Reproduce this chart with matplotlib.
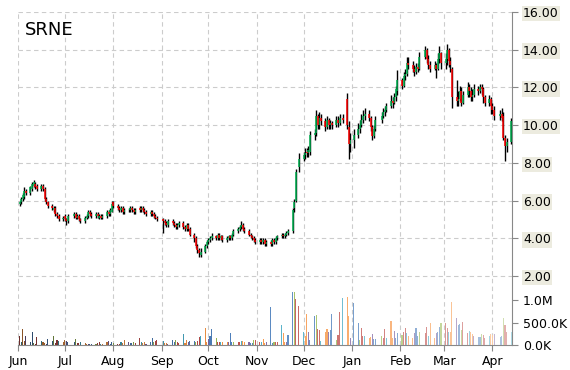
import numpy as np
import pandas as pd
import matplotlib
matplotlib.use("Agg")
import matplotlib.pyplot as plt
import matplotlib.dates as mdates
import matplotlib.colors as mcolors

ticker = "SRNE"
holidays = ["2014-07-04", "2014-09-01", "2014-11-27", "2014-12-25",
            "2015-01-01", "2015-01-19", "2015-02-16", "2015-04-03"]

# daily prices, one row per month (Jun 2014 .. Apr 2015)
opens = [
    5.8, 5.9, 6.1, 6.2, 6.5, 6.4, 6.6, 6.8, 6.9, 6.8, 6.6, 6.8, 6.6, 6.1, 5.9, 5.7, 5.5, 5.6, 5.3, 5.2, 5.0,
    5.2, 5.0, 4.9, 5.2, 5.3, 5.1, 5.2, 5.0, 4.9, 5.1, 5.2, 5.4, 5.3, 5.2, 5.3, 5.1, 5.2, 5.1, 5.2, 5.4, 5.3, 5.4,
    5.9, 5.7, 5.6, 5.5, 5.6, 5.4, 5.5, 5.5, 5.6, 5.5, 5.4, 5.6, 5.5, 5.6, 5.5, 5.4, 5.3, 5.4, 5.3, 5.2, 5.1,
    5.0, 4.9, 4.8, 4.7, 4.9, 4.8, 4.7, 4.6, 4.7, 4.8, 4.6, 4.5, 4.7, 4.5, 4.2, 4.0, 3.6, 3.4, 3.1, 3.3, 3.6,
    3.8, 3.9, 4.0, 4.1, 4.0, 4.2, 4.0, 4.1, 3.9, 4.0, 4.1, 4.0, 4.2, 4.4, 4.5, 4.6, 4.7, 4.5, 4.4, 4.2, 4.1, 4.0, 3.9,
    3.8, 3.9, 3.8, 3.9, 3.7, 3.8, 3.7, 3.9, 3.8, 4.0, 4.1, 4.2, 4.1, 4.2, 4.3, 4.4, 5.6, 6.0, 7.8,
    8.2, 8.4, 8.6, 8.5, 8.6, 9.5, 9.6, 10.5, 10.0, 10.4, 10.2, 9.9, 10.3, 10.0, 10.1, 10.0, 10.3, 10.1, 10.4, 11.4, 9.9, 9.0,
    9.2, 9.5, 9.8, 10.0, 10.3, 10.5, 10.6, 10.4, 9.9, 9.4, 9.8, 10.3, 10.5, 10.7, 10.8, 11.0, 11.3, 11.2, 11.5, 11.8,
    12.4, 12.1, 12.6, 12.7, 13.3, 13.2, 13.0, 12.8, 13.1, 13.0, 13.6, 14.0, 13.5, 13.2, 13.0, 13.2, 13.0, 13.5, 13.8,
    13.3, 13.5, 14.0, 13.4, 13.0, 11.5, 11.3, 11.4, 11.8, 11.2, 11.6, 12.0, 11.8, 11.5, 11.6, 11.9, 11.8, 12.0, 11.9, 11.5, 11.2, 11.4,
    11.0, 10.8, 10.5, 10.6, 10.5, 9.3, 8.9, 9.1,
]
highs = [
    6.0, 6.2, 6.4, 6.7, 6.6, 6.8, 7.0, 7.1, 7.0, 6.9, 6.9, 6.9, 6.7, 6.2, 6.0, 5.8, 5.7, 5.7, 5.4, 5.3, 5.2,
    5.3, 5.1, 5.3, 5.4, 5.4, 5.3, 5.3, 5.1, 5.2, 5.3, 5.5, 5.5, 5.4, 5.4, 5.4, 5.3, 5.3, 5.3, 5.5, 5.5, 5.6, 6.0,
    6.0, 5.8, 5.7, 5.7, 5.7, 5.6, 5.6, 5.7, 5.7, 5.6, 5.6, 5.7, 5.7, 5.7, 5.6, 5.5, 5.5, 5.5, 5.4, 5.3, 5.2,
    5.1, 5.0, 4.9, 5.0, 5.0, 4.9, 4.8, 4.8, 4.9, 4.9, 4.7, 4.8, 4.8, 4.6, 4.3, 4.1, 3.7, 3.5, 3.5, 3.7, 3.9,
    4.0, 4.1, 4.3, 4.2, 4.3, 4.3, 4.2, 4.2, 4.1, 4.2, 4.2, 4.3, 4.5, 4.6, 4.7, 4.9, 4.8, 4.6, 4.5, 4.3, 4.2, 4.1, 4.0,
    4.0, 4.0, 4.0, 4.0, 3.9, 3.9, 4.0, 4.0, 4.1, 4.2, 4.3, 4.3, 4.3, 4.4, 4.5, 5.6, 6.1, 7.7, 8.5,
    8.6, 8.8, 8.8, 8.9, 9.7, 9.8, 10.8, 10.6, 10.7, 10.6, 10.4, 10.5, 10.4, 10.3, 10.2, 10.5, 10.5, 10.6, 10.6, 11.7, 10.2, 9.6,
    9.8, 10.1, 10.3, 10.6, 10.8, 10.9, 10.8, 10.5, 10.0, 10.0, 10.5, 10.7, 10.9, 11.0, 11.2, 11.6, 11.5, 11.7, 12.1, 12.9,
    12.5, 12.8, 13.0, 13.6, 13.6, 13.4, 13.2, 13.3, 13.3, 13.9, 14.2, 14.1, 13.7, 13.4, 13.4, 13.3, 13.8, 14.2, 13.9,
    13.8, 14.3, 14.1, 13.6, 13.1, 12.4, 11.8, 12.1, 12.0, 11.8, 12.3, 12.2, 12.0, 11.9, 12.2, 12.1, 12.2, 12.2, 12.0, 11.6, 11.6, 11.5,
    11.2, 11.0, 10.8, 10.9, 10.7, 9.5, 9.3, 10.4,
]
lows = [
    5.7, 5.8, 6.0, 6.1, 6.3, 6.3, 6.5, 6.7, 6.6, 6.5, 6.5, 6.5, 6.0, 5.8, 5.6, 5.5, 5.4, 5.2, 5.1, 4.9, 4.9,
    4.9, 4.7, 4.8, 5.1, 5.0, 5.0, 4.9, 4.8, 4.8, 5.0, 5.1, 5.2, 5.1, 5.1, 5.1, 5.0, 5.0, 5.0, 5.1, 5.2, 5.2, 5.4,
    5.6, 5.5, 5.4, 5.4, 5.3, 5.3, 5.4, 5.4, 5.4, 5.3, 5.3, 5.4, 5.4, 5.4, 5.3, 5.2, 5.2, 5.2, 5.1, 5.0, 4.9,
    4.3, 4.7, 4.6, 4.6, 4.7, 4.6, 4.5, 4.5, 4.6, 4.5, 4.4, 4.4, 4.4, 4.1, 3.8, 3.5, 3.2, 3.0, 3.0, 3.2, 3.5,
    3.7, 3.8, 3.9, 3.9, 3.9, 3.9, 3.9, 3.8, 3.8, 3.9, 3.9, 3.9, 4.1, 4.3, 4.4, 4.5, 4.4, 4.3, 4.1, 4.0, 3.9, 3.8, 3.7,
    3.7, 3.7, 3.7, 3.6, 3.6, 3.6, 3.6, 3.7, 3.7, 3.9, 4.0, 4.0, 4.0, 4.1, 4.2, 4.3, 5.4, 5.9, 7.5,
    8.1, 8.2, 8.3, 8.3, 8.4, 9.2, 9.4, 9.8, 9.8, 10.0, 9.7, 9.8, 9.8, 9.8, 9.8, 9.9, 9.9, 10.0, 10.1, 9.8, 8.2, 8.6,
    8.8, 9.3, 9.6, 9.9, 10.1, 10.3, 10.2, 9.7, 9.2, 9.3, 9.7, 10.1, 10.4, 10.5, 10.7, 10.9, 10.9, 11.1, 11.3, 11.6,
    11.9, 12.0, 12.4, 12.6, 13.0, 12.8, 12.6, 12.7, 12.8, 12.9, 13.5, 13.3, 13.0, 12.8, 12.9, 12.5, 12.9, 13.3, 13.0,
    13.0, 13.2, 13.1, 12.8, 10.9, 11.0, 11.0, 11.3, 11.0, 11.1, 11.5, 11.5, 11.3, 11.3, 11.5, 11.6, 11.7, 11.6, 11.2, 11.0, 11.0, 10.6,
    10.6, 10.3, 10.3, 10.2, 9.2, 8.1, 8.6, 9.0,
]
closes = [
    5.9, 6.1, 6.3, 6.5, 6.4, 6.7, 6.9, 7.0, 6.7, 6.6, 6.8, 6.6, 6.1, 5.9, 5.7, 5.6, 5.6, 5.3, 5.2, 5.0, 5.1,
    5.0, 4.9, 5.2, 5.3, 5.1, 5.2, 5.0, 4.9, 5.1, 5.2, 5.4, 5.3, 5.2, 5.3, 5.2, 5.2, 5.1, 5.2, 5.4, 5.3, 5.5, 5.8,
    5.7, 5.6, 5.5, 5.6, 5.4, 5.5, 5.5, 5.6, 5.5, 5.4, 5.5, 5.5, 5.6, 5.5, 5.4, 5.3, 5.4, 5.3, 5.2, 5.1, 5.0,
    4.9, 4.8, 4.7, 4.9, 4.8, 4.7, 4.6, 4.7, 4.8, 4.6, 4.5, 4.7, 4.5, 4.2, 4.0, 3.6, 3.4, 3.2, 3.3, 3.6, 3.8,
    3.9, 4.0, 4.1, 4.0, 4.2, 4.0, 4.1, 3.9, 4.0, 4.1, 4.0, 4.2, 4.4, 4.5, 4.6, 4.7, 4.5, 4.4, 4.2, 4.1, 4.0, 3.9, 3.8,
    3.9, 3.8, 3.9, 3.7, 3.8, 3.7, 3.9, 3.8, 4.0, 4.1, 4.2, 4.1, 4.2, 4.3, 4.4, 5.5, 5.9, 7.5, 8.2,
    8.4, 8.5, 8.5, 8.7, 9.5, 9.6, 10.5, 10.0, 10.4, 10.2, 9.9, 10.3, 10.0, 10.1, 10.0, 10.3, 10.1, 10.4, 10.3, 10.0, 9.0, 9.2,
    9.5, 9.8, 10.0, 10.3, 10.5, 10.6, 10.4, 9.9, 9.4, 9.8, 10.3, 10.5, 10.7, 10.8, 11.0, 11.3, 11.2, 11.5, 11.9, 12.4,
    12.1, 12.6, 12.7, 13.3, 13.2, 13.0, 12.8, 13.1, 13.0, 13.6, 14.0, 13.5, 13.2, 13.0, 13.2, 13.0, 13.5, 13.8, 13.3,
    13.5, 14.0, 13.4, 13.2, 11.5, 11.3, 11.4, 11.8, 11.2, 11.6, 12.0, 11.8, 11.5, 11.6, 11.9, 11.8, 12.0, 11.9, 11.5, 11.2, 11.4, 11.0,
    10.8, 10.5, 10.6, 10.4, 9.3, 8.9, 9.1, 10.2,
]
# volume in thousands of shares
volume_k = [
    200, 60, 355, 90, 210, 60, 300, 40, 30, 185, 90, 70, 40, 30, 130, 90, 210, 40, 110, 90, 60,
    110, 90, 70, 60, 130, 45, 40, 60, 45, 30, 30, 30, 30, 30, 45, 60, 30, 30, 60, 90, 30, 75,
    45, 30, 30, 60, 45, 110, 60, 45, 45, 60, 45, 150, 75, 45, 60, 30, 60, 160, 75, 90, 110,
    90, 40, 40, 25, 110, 75, 110, 75, 40, 240, 45, 110, 60, 90, 100, 75, 100, 185, 210, 370, 60,
    130, 210, 355, 150, 75, 60, 75, 75, 75, 60, 260, 75, 75, 75, 75, 90, 90, 75, 75, 45, 45, 110, 120,
    75, 60, 130, 40, 60, 850, 40, 60, 75, 60, 440, 260, 75, 60, 220, 1180, 1180, 1020, 870,
    300, 210, 690, 300, 120, 640, 665, 355, 330, 100, 280, 355, 280, 330, 690, 120, 220, 740, 1040, 1070, 650, 150,
    925, 480, 110, 370, 210, 210, 150, 185, 240, 130, 130, 210, 150, 355, 150, 530, 150, 320, 150, 260,
    220, 280, 385, 260, 210, 160, 260, 370, 210, 280, 260, 410, 210, 500, 150, 260, 300, 400, 500,
    480, 370, 280, 300, 950, 590, 450, 460, 330, 520, 260, 310, 280, 240, 200, 185, 185, 240, 220, 160, 200, 240,
    220, 240, 185, 200, 610, 450, 300, 280,
]

dates = pd.bdate_range("2014-06-02", "2015-04-13", freq="C", holidays=holidays)
n = min(len(dates), len(closes))
x = mdates.date2num(dates[:n].to_pydatetime())
o = np.array(opens[:n]); h = np.array(highs[:n]); l = np.array(lows[:n]); c = np.array(closes[:n])
v = np.array(volume_k[:n]) * 1000

fig = plt.figure(figsize=(5.7, 3.7), dpi=100)
W, H = 570, 370
ax = fig.add_axes([18 / W, (H - 345) / H, 494 / W, 333 / H])
axv = fig.add_axes([18 / W, (H - 345) / H, 494 / W, 55 / H], sharex=ax)
axv.patch.set_alpha(0)

# candles: black wick, coloured body
ax.vlines(x, l, h, color="black", lw=1.0, zorder=3)
up = c >= o
ax.vlines(x[up], o[up], c[up], color="#00b050", lw=1.1, zorder=4)
ax.vlines(x[~up], c[~up], o[~up], color="#ff0000", lw=1.1, zorder=4)

# volume bars, palette darker early and paler late
palette = ["#c0504d", "#9bbb59", "#4f81bd", "#8064a2", "#f79646", "#4bacc6"]
vcols = []
for i in range(n):
    base = np.array(mcolors.to_rgb(palette[(i * 5 + i // 3) % 6]))
    t = i / (n - 1)
    if t < 0.45:
        k = 0.45 * (1 - t / 0.45)
        col = base * (1 - k)
    else:
        k = 0.55 * (t - 0.45) / 0.55
        col = base + (1 - base) * k
    vcols.append(col)
axv.bar(x, v, width=0.7, color=vcols, zorder=2)

ax.set_xlim(mdates.date2num(pd.Timestamp("2014-06-01")), mdates.date2num(pd.Timestamp("2015-04-13 12:00")))
ax.set_ylim(16 - 333 / 18.86, 16)
axv.set_ylim(0, 55 / 45 * 1e6)

ax.xaxis.set_major_locator(mdates.MonthLocator())
ax.xaxis.set_major_formatter(mdates.DateFormatter("%b"))
ax.yaxis.tick_right()
ax.set_yticks(np.arange(2, 17, 2))
ax.set_yticklabels([f"{t:.2f}" for t in np.arange(2, 17, 2)])
for lbl in ax.get_yticklabels():
    lbl.set_bbox(dict(facecolor="#ecebdf", edgecolor="none", pad=1.0))

ax.grid(True, ls=(0, (4, 3)), color="#cccccc", lw=0.8)
ax.set_axisbelow(True)
for s in ["top", "left"]:
    ax.spines[s].set_visible(False)
for s in ["right", "bottom"]:
    ax.spines[s].set_color("#888888")
ax.tick_params(axis="both", colors="#888888", labelcolor="black", labelsize=9, length=4)
ax.tick_params(axis="y", pad=4)

for s in axv.spines.values():
    s.set_visible(False)
axv.yaxis.tick_right()
axv.set_yticks([0, 5e5, 1e6])
axv.set_yticklabels(["0.0K", "500.0K", "1.0M"])
axv.tick_params(axis="y", colors="#888888", labelcolor="black", labelsize=9, length=4, pad=4)
axv.tick_params(axis="x", bottom=False, labelbottom=False)

fig.text(25 / W, 1 - 30 / H, ticker, fontsize=13, va="center", ha="left")

fig.savefig("out.png", dpi=100)
